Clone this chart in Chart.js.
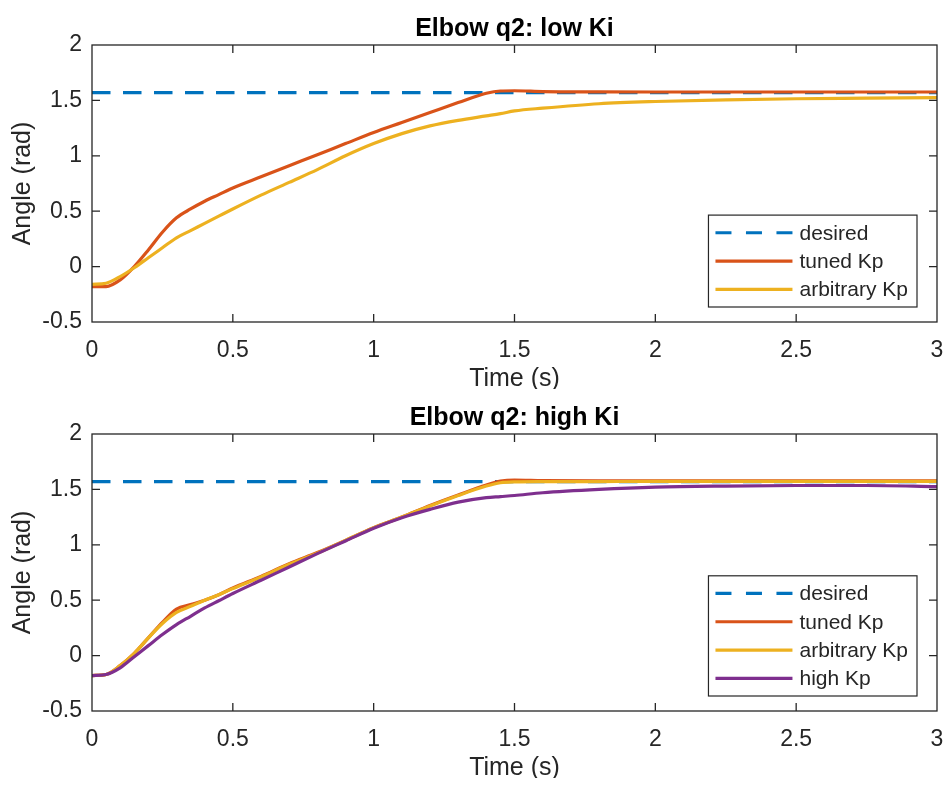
<!DOCTYPE html>
<html>
<head>
<meta charset="utf-8">
<script src="https://cdn.jsdelivr.net/npm/chart.js@4.4.1/dist/chart.umd.min.js"></script>
<style>
  html, body { margin: 0; padding: 0; background: #ffffff; }
  .panel { position: absolute; left: 0; width: 949px; height: 389px; }
  #panelLow { top: 0; }
  #panelHigh { top: 389px; }
  canvas { display: block; }
</style>
</head>
<body>
<div class="panel" id="panelLow"><canvas id="chartLow" width="949" height="389"></canvas></div>
<div class="panel" id="panelHigh"><canvas id="chartHigh" width="949" height="389"></canvas></div>
<script>
// ---- data (angle in rad, time in s) ----
const time = [0, 0.05, 0.1, 0.15, 0.2, 0.25, 0.3, 0.35, 0.4, 0.45, 0.5, 0.6, 0.7, 0.8, 0.9,
              1.0, 1.1, 1.2, 1.3, 1.4, 1.45, 1.5, 1.6, 1.8, 2.0, 2.25, 2.5, 2.75, 3.0];
const desiredTime = [0, 3];
const desiredAngle = [1.5708, 1.5708];

// low Ki
const tunedLow = [-0.18, -0.18, -0.12, 0.0, 0.15, 0.31, 0.44, 0.52, 0.59, 0.65, 0.71, 0.81, 0.91, 1.01, 1.11,
                  1.21, 1.30, 1.39, 1.48, 1.565, 1.585, 1.587, 1.58, 1.577, 1.576, 1.576, 1.576, 1.576, 1.576];
const arbitraryLow = [-0.16, -0.15, -0.09, -0.01, 0.08, 0.17, 0.26, 0.325, 0.39, 0.455, 0.52, 0.645, 0.76, 0.875, 1.0,
                      1.11, 1.2, 1.27, 1.32, 1.36, 1.38, 1.405, 1.43, 1.47, 1.49, 1.505, 1.515, 1.52, 1.525];

// high Ki
const tunedHigh = [-0.18, -0.17, -0.09, 0.02, 0.16, 0.30, 0.42, 0.46, 0.50, 0.55, 0.61, 0.715, 0.83, 0.93, 1.04,
                   1.155, 1.25, 1.355, 1.45, 1.54, 1.575, 1.585, 1.58, 1.578, 1.578, 1.578, 1.578, 1.577, 1.577];
const arbitraryHigh = [-0.18, -0.17, -0.09, 0.02, 0.16, 0.29, 0.39, 0.445, 0.50, 0.55, 0.605, 0.71, 0.825, 0.925, 1.04,
                       1.155, 1.25, 1.35, 1.445, 1.53, 1.56, 1.568, 1.57, 1.571, 1.572, 1.572, 1.572, 1.572, 1.572];
const highKpHigh = [-0.18, -0.17, -0.11, -0.01, 0.09, 0.19, 0.28, 0.355, 0.43, 0.495, 0.56, 0.68, 0.80, 0.92, 1.035,
                    1.15, 1.245, 1.32, 1.385, 1.425, 1.435, 1.445, 1.47, 1.50, 1.52, 1.53, 1.535, 1.535, 1.525];

const xTickLabels = ['0', '0.5', '1', '1.5', '2', '2.5', '3'];
const yTickLabels = ['-0.5', '0', '0.5', '1', '1.5', '2'];

// ---- styling ----
const INK = '#262626';
const FONT = '"Liberation Sans", Arial, Helvetica, sans-serif';
const COLORS = { desired: '#0072BD', tuned: '#D95319', arbitrary: '#EDB120', high: '#7E2F8E' };

const toPoints = (xs, ys) => xs.map((x, i) => ({ x, y: ys[i] }));

function series(label, xs, ys, color, order, dashed) {
  return {
    label,
    data: toPoints(xs, ys),
    borderColor: color,
    backgroundColor: color,
    borderWidth: 3.2,
    borderDash: dashed ? [18.5, 12.5] : [],
    borderCapStyle: 'butt',
    pointRadius: 0,
    cubicInterpolationMode: 'monotone',
    fill: false,
    order,
    legendDash: dashed ? [16, 14.5] : []
  };
}

// Boxed axes with inward ticks, a bold title and an in-plot legend
const boxedAxes = {
  id: 'boxedAxes',
  afterDatasetsDraw(chart, args, opts) {
    const { ctx, chartArea: a, scales } = chart;
    const tick = 8;
    ctx.save();
    ctx.strokeStyle = INK;
    ctx.lineWidth = 1.3;
    ctx.beginPath();
    scales.x.ticks.forEach(t => {
      const px = scales.x.getPixelForValue(t.value);
      if (px <= a.left + 1 || px >= a.right - 1) return;
      ctx.moveTo(px, a.bottom); ctx.lineTo(px, a.bottom - tick);
      ctx.moveTo(px, a.top); ctx.lineTo(px, a.top + tick);
    });
    scales.y.ticks.forEach(t => {
      const py = scales.y.getPixelForValue(t.value);
      if (py <= a.top + 1 || py >= a.bottom - 1) return;
      ctx.moveTo(a.left, py); ctx.lineTo(a.left + tick, py);
      ctx.moveTo(a.right, py); ctx.lineTo(a.right - tick, py);
    });
    ctx.stroke();
    ctx.strokeRect(a.left, a.top, a.right - a.left, a.bottom - a.top);

    // title
    ctx.fillStyle = '#000000';
    ctx.font = 'bold 25px ' + FONT;
    ctx.textAlign = 'center';
    ctx.textBaseline = 'middle';
    ctx.fillText(opts.title, (a.left + a.right) / 2, 29);

    // legend
    const sets = chart.data.datasets;
    ctx.font = '21px ' + FONT;
    const textW = Math.max(...sets.map(d => ctx.measureText(d.label).width));
    const rowH = 28.3;
    const lineLen = 77;
    const boxW = 7 + lineLen + 7 + textW + 9;
    const boxH = sets.length * rowH + 7;
    const bx = a.right - 20 - boxW;
    const by = a.bottom - 15 - boxH;
    ctx.fillStyle = '#ffffff';
    ctx.fillRect(bx, by, boxW, boxH);
    ctx.lineWidth = 1.2;
    ctx.strokeStyle = INK;
    ctx.setLineDash([]);
    ctx.strokeRect(bx, by, boxW, boxH);
    ctx.textAlign = 'left';
    sets.forEach((d, i) => {
      const cy = by + 3.5 + rowH * (i + 0.5);
      ctx.beginPath();
      ctx.setLineDash(d.legendDash);
      ctx.strokeStyle = d.borderColor;
      ctx.lineWidth = 3.2;
      ctx.lineCap = 'butt';
      ctx.moveTo(bx + 7, cy);
      ctx.lineTo(bx + 7 + lineLen, cy);
      ctx.stroke();
      ctx.setLineDash([]);
      ctx.fillStyle = INK;
      ctx.fillText(d.label, bx + 7 + lineLen + 7, cy + 1);
    });
    ctx.restore();
  }
};

function makeChart(canvasId, title, datasets) {
  return new Chart(document.getElementById(canvasId), {
    type: 'line',
    data: { datasets },
    options: {
      responsive: false,
      animation: false,
      events: [],
      layout: { padding: { top: 45, right: 12, left: 0, bottom: 0 } },
      plugins: {
        legend: { display: false },
        tooltip: { enabled: false },
        title: { display: false },
        boxedAxes: { title }
      },
      scales: {
        x: {
          type: 'linear',
          min: 0, max: 3,
          grid: { display: false, drawTicks: false },
          border: { display: false },
          ticks: {
            stepSize: 0.5,
            autoSkip: false,
            maxRotation: 0,
            padding: 15,
            color: INK,
            font: { family: FONT, size: 23 },
            callback: (v, i) => xTickLabels[i]
          },
          title: {
            display: true, text: 'Time (s)', color: INK,
            font: { family: FONT, size: 25, lineHeight: 1.0 },
            padding: { top: 0, bottom: -3 }
          },
          afterFit: s => { s.height = 389 - 322; s.paddingLeft = 0; s.paddingRight = 0; }
        },
        y: {
          type: 'linear',
          min: -0.5, max: 2,
          grid: { display: false, drawTicks: false },
          border: { display: false },
          ticks: {
            stepSize: 0.5,
            autoSkip: false,
            padding: 10,
            color: INK,
            font: { family: FONT, size: 23 },
            callback: (v, i) => yTickLabels[i]
          },
          title: {
            display: true, text: 'Angle (rad)', color: INK,
            font: { family: FONT, size: 25 },
            padding: { top: 8, bottom: 0 }
          },
          afterFit: s => { s.width = 92; s.paddingTop = 0; s.paddingBottom = 0; }
        }
      }
    },
    plugins: [boxedAxes]
  });
}

makeChart('chartLow', 'Elbow q2: low Ki', [
  series('desired', desiredTime, desiredAngle, COLORS.desired, 4, true),
  series('tuned Kp', time, tunedLow, COLORS.tuned, 3, false),
  series('arbitrary Kp', time, arbitraryLow, COLORS.arbitrary, 2, false)
]);

makeChart('chartHigh', 'Elbow q2: high Ki', [
  series('desired', desiredTime, desiredAngle, COLORS.desired, 4, true),
  series('tuned Kp', time, tunedHigh, COLORS.tuned, 3, false),
  series('arbitrary Kp', time, arbitraryHigh, COLORS.arbitrary, 2, false),
  series('high Kp', time, highKpHigh, COLORS.high, 1, false)
]);
</script>
</body>
</html>
